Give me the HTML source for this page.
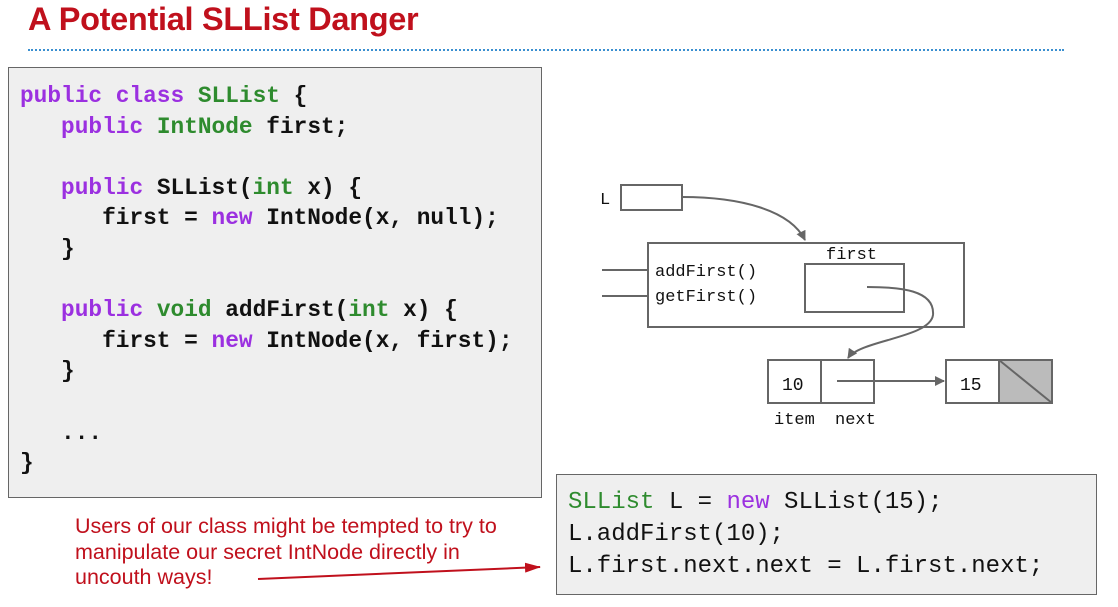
<!DOCTYPE html>
<html><head><style>
body{margin:0;width:1118px;height:607px;background:#fff;position:relative;overflow:hidden;font-family:"Liberation Sans",sans-serif}
.t{position:absolute;left:28px;top:1px;font-size:32.5px;font-weight:bold;color:#c0101c;letter-spacing:-0.3px}
.dots{position:absolute;left:28px;top:49px;width:1036px;border-top:2px dotted #3a8fd0}
.code{position:absolute;left:8px;top:67px;width:534px;height:431px;background:#efefef;border:1.5px solid #666;box-sizing:border-box}
pre{margin:0;font-family:"Liberation Mono",monospace;font-weight:bold;white-space:pre}
.c1{position:absolute;left:11px;top:13px;font-size:22.8px;line-height:30.6px;color:#111}
.k{color:#9b30e0}.g{color:#2e8b2e}
.code2{position:absolute;left:556px;top:474px;width:541px;height:121px;background:#efefef;border:1.5px solid #666;box-sizing:border-box}
.c2{position:absolute;left:11px;top:12px;font-size:24px;line-height:32px;font-weight:normal;color:#111}
.red{position:absolute;left:75px;top:514px;font-size:21.5px;line-height:25.5px;color:#c0101c}
svg{position:absolute;left:0;top:0}
</style></head><body>
<div class="t">A Potential SLList Danger</div>
<div class="dots"></div>
<div class="code"><pre class="c1"><span class="k">public class</span> <span class="g">SLList</span> {
   <span class="k">public</span> <span class="g">IntNode</span> first;

   <span class="k">public</span> SLList(<span class="g">int</span> x) {
      first = <span class="k">new</span> IntNode(x, null);
   }

   <span class="k">public</span> <span class="g">void</span> addFirst(<span class="g">int</span> x) {
      first = <span class="k">new</span> IntNode(x, first);
   }

   ...
}</pre></div>
<div class="code2"><pre class="c2"><span class="g">SLList</span> L = <span class="k">new</span> SLList(15);
L.addFirst(10);
L.first.next.next = L.first.next;</pre></div>
<div class="red">Users of our class might be tempted to try to<br>manipulate our secret IntNode directly in<br>uncouth ways!</div>
<svg width="1118" height="607" font-family="Liberation Mono,monospace" font-size="17">
<defs><marker id="a" markerWidth="10" markerHeight="10" refX="9" refY="5" orient="auto" markerUnits="userSpaceOnUse"><path d="M0,0L10,5L0,10z" fill="#666"/></marker>
<marker id="r" markerWidth="16" markerHeight="10" refX="15" refY="5" orient="auto" markerUnits="userSpaceOnUse"><path d="M0,0L16,5L0,10z" fill="#c0101c"/></marker></defs>
<g stroke="#666" stroke-width="2" fill="none">
<rect x="621" y="185" width="61" height="25"/>
<rect x="648" y="243" width="316" height="84"/>
<rect x="805" y="264" width="99" height="48"/>
<line x1="602" y1="270" x2="648" y2="270"/><line x1="602" y1="296" x2="648" y2="296"/>
<rect x="768" y="360" width="53" height="43"/><rect x="821" y="360" width="53" height="43"/>
<rect x="946" y="360" width="53" height="43"/>
<rect x="999" y="360" width="53" height="43" fill="#bbb"/>
<line x1="999" y1="360" x2="1052" y2="403"/>
<path d="M682,197 C740,197 790,210 805,240" marker-end="url(#a)"/>
<path d="M867,287 C900,287 935,290 933,315 C930,338 860,340 848,358" marker-end="url(#a)"/>
<path d="M837,381 L944,381" marker-end="url(#a)"/>
</g>
<path d="M258,579 L540,567" stroke="#c0101c" stroke-width="2" marker-end="url(#r)"/>
<g fill="#111">
<text x="600" y="204">L</text>
<text x="826" y="259">first</text>
<text x="655" y="276">addFirst()</text>
<text x="655" y="301">getFirst()</text>
<text x="782" y="390" font-size="18">10</text>
<text x="960" y="390" font-size="18">15</text>
<text x="774" y="424">item</text>
<text x="835" y="424">next</text>
</g>
</svg>
</body></html>
